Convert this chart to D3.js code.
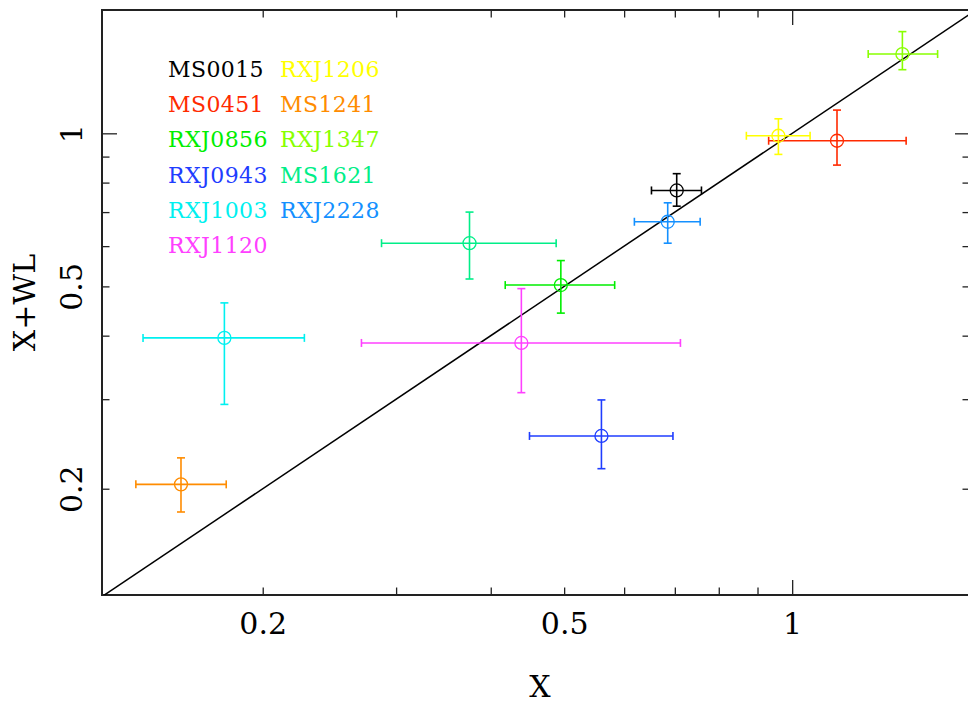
<!DOCTYPE html>
<html>
<head>
<meta charset="utf-8">
<script src="https://cdn.jsdelivr.net/npm/d3@7"></script>
<style>
  html, body { margin: 0; padding: 0; background: #fff; }
  svg { display: block; }
  text { font-family: "DejaVu Serif", "Liberation Serif", serif; }
</style>
</head>
<body>
<svg id="chart" width="968" height="703"></svg>
<script>
// Cluster names and plot colours
const clusters = ["MS0015", "MS0451", "RXJ0856", "RXJ0943", "RXJ1003", "RXJ1120",
                  "RXJ1206", "MS1241", "RXJ1347", "MS1621", "RXJ2228"];
const colors = ["#000000", "#ff2a00", "#00ee00", "#1f3dff", "#00f0f0", "#ff40ff",
                "#ffff00", "#ff8c00", "#88ff00", "#00ee88", "#1490ff"];

// X estimate with its lower / upper bounds
const xVal = [0.704, 1.146, 0.495, 0.560, 0.178, 0.439, 0.959, 0.156, 1.398, 0.375, 0.685];
const xLo  = [0.652, 0.931, 0.418, 0.450, 0.139, 0.270, 0.870, 0.136, 1.260, 0.287, 0.619];
const xHi  = [0.759, 1.414, 0.583, 0.696, 0.227, 0.712, 1.056, 0.179, 1.556, 0.488, 0.756];

// X+WL estimate with its lower / upper bounds
const yVal = [0.772, 0.967, 0.503, 0.254, 0.396, 0.387, 0.989, 0.204, 1.432, 0.608, 0.670];
const yLo  = [0.719, 0.866, 0.443, 0.219, 0.293, 0.309, 0.909, 0.180, 1.334, 0.517, 0.608];
const yHi  = [0.833, 1.111, 0.562, 0.299, 0.464, 0.495, 1.068, 0.230, 1.585, 0.700, 0.730];

// Axis ticks (log axes: minor ticks every 0.1, labels on a few)
const tickValues = [0.2, 0.3, 0.4, 0.5, 0.6, 0.7, 0.8, 0.9, 1];
const labelledTicks = [0.2, 0.5, 1];
const majorTicks = [1];

const xDomain = [0.1227, 1.717];
const yDomain = [0.1236, 1.748];

const plot = { left: 102, right: 970, top: 10, bottom: 595 };

const svg = d3.select("#chart");

const x = d3.scaleLog().domain(xDomain).range([plot.left, plot.right]);
const y = d3.scaleLog().domain(yDomain).range([plot.bottom, plot.top]);

const fmt = v => labelledTicks.includes(v) ? String(v) : "";
const minorLen = 7.5, majorLen = 15;

function styleTicks(g, sign, horizontal) {
  g.select(".domain").remove();
  g.selectAll(".tick line")
    .attr("stroke", "#222")
    .attr("stroke-width", 1.3)
    .each(function(d) {
      const len = (majorTicks.includes(d) ? majorLen : minorLen) * sign;
      d3.select(this).attr(horizontal ? "x2" : "y2", len);
    });
}

// Bottom axis
const gx = svg.append("g")
  .attr("transform", `translate(0,${plot.bottom})`)
  .call(d3.axisBottom(x).tickValues(tickValues).tickFormat(fmt).tickSizeOuter(0));
styleTicks(gx, -1, false);
gx.selectAll(".tick text")
  .attr("y", 39).attr("dy", 0)
  .attr("fill", "#000")
  .attr("font-size", 30)
  .attr("font-family", "DejaVu Serif");

// Top axis (ticks only)
const gxt = svg.append("g")
  .attr("transform", `translate(0,${plot.top})`)
  .call(d3.axisTop(x).tickValues(tickValues).tickFormat("").tickSizeOuter(0));
styleTicks(gxt, 1, false);

// Left axis with rotated labels
const gy = svg.append("g")
  .attr("transform", `translate(${plot.left},0)`)
  .call(d3.axisLeft(y).tickValues(tickValues).tickFormat(fmt).tickSizeOuter(0));
styleTicks(gy, 1, true);
gy.selectAll(".tick text")
  .attr("x", null).attr("dy", 0)
  .attr("text-anchor", "middle")
  .attr("transform", "translate(-20,0) rotate(-90)")
  .attr("fill", "#000")
  .attr("font-size", 30)
  .attr("font-family", "DejaVu Serif");

// Right axis (ticks only)
const gyr = svg.append("g")
  .attr("transform", `translate(${plot.right},0)`)
  .call(d3.axisRight(y).tickValues(tickValues).tickFormat("").tickSizeOuter(0));
styleTicks(gyr, -1, true);

// Frame
svg.append("rect")
  .attr("x", plot.left).attr("y", plot.top)
  .attr("width", plot.right - plot.left).attr("height", plot.bottom - plot.top)
  .attr("fill", "none").attr("stroke", "#222").attr("stroke-width", 2);

// Axis titles
svg.append("text")
  .attr("x", 540).attr("y", 697)
  .attr("text-anchor", "middle")
  .attr("font-size", 30)
  .text("X");
svg.append("text")
  .attr("transform", `translate(35,${(plot.top + plot.bottom) / 2}) rotate(-90)`)
  .attr("text-anchor", "middle")
  .attr("font-size", 30)
  .text("X+WL");

// Clip for plot-area marks
svg.append("clipPath").attr("id", "plotClip")
  .append("rect")
  .attr("x", plot.left).attr("y", plot.top)
  .attr("width", plot.right - plot.left).attr("height", plot.bottom - plot.top);

const area = svg.append("g").attr("clip-path", "url(#plotClip)");

// One-to-one line
const lo = Math.min(xDomain[0], yDomain[0]), hi = Math.max(xDomain[1], yDomain[1]);
area.append("line")
  .attr("x1", x(lo)).attr("y1", y(lo))
  .attr("x2", x(hi)).attr("y2", y(hi))
  .attr("stroke", "#000").attr("stroke-width", 1.5);

// Points with error bars
const cap = 4;
const pts = area.selectAll("g.pt")
  .data(clusters.map((name, i) => ({ name, i })))
  .join("g")
  .attr("class", "pt")
  .attr("stroke", d => colors[d.i])
  .attr("stroke-width", 1.6)
  .attr("fill", "none");

pts.append("line")
  .attr("x1", d => x(xLo[d.i])).attr("x2", d => x(xHi[d.i]))
  .attr("y1", d => y(yVal[d.i])).attr("y2", d => y(yVal[d.i]));
pts.append("line")
  .attr("x1", d => x(xVal[d.i])).attr("x2", d => x(xVal[d.i]))
  .attr("y1", d => y(yLo[d.i])).attr("y2", d => y(yHi[d.i]));
// caps
pts.append("line")
  .attr("x1", d => x(xLo[d.i])).attr("x2", d => x(xLo[d.i]))
  .attr("y1", d => y(yVal[d.i]) - cap).attr("y2", d => y(yVal[d.i]) + cap);
pts.append("line")
  .attr("x1", d => x(xHi[d.i])).attr("x2", d => x(xHi[d.i]))
  .attr("y1", d => y(yVal[d.i]) - cap).attr("y2", d => y(yVal[d.i]) + cap);
pts.append("line")
  .attr("x1", d => x(xVal[d.i]) - cap).attr("x2", d => x(xVal[d.i]) + cap)
  .attr("y1", d => y(yLo[d.i])).attr("y2", d => y(yLo[d.i]));
pts.append("line")
  .attr("x1", d => x(xVal[d.i]) - cap).attr("x2", d => x(xVal[d.i]) + cap)
  .attr("y1", d => y(yHi[d.i])).attr("y2", d => y(yHi[d.i]));
pts.append("circle")
  .attr("cx", d => x(xVal[d.i])).attr("cy", d => y(yVal[d.i]))
  .attr("r", 6.5)
  .attr("stroke-width", 1.3);

// Legend: two columns of coloured names
const legendRows = 6;
svg.append("g").selectAll("text")
  .data(clusters)
  .join("text")
  .attr("x", (d, i) => i < legendRows ? 168 : 280)
  .attr("y", (d, i) => 77 + (i % legendRows) * 35.2)
  .attr("fill", (d, i) => colors[i])
  .attr("font-size", 22)
  .attr("letter-spacing", 0.4)
  .text(d => d);
</script>
</body>
</html>
